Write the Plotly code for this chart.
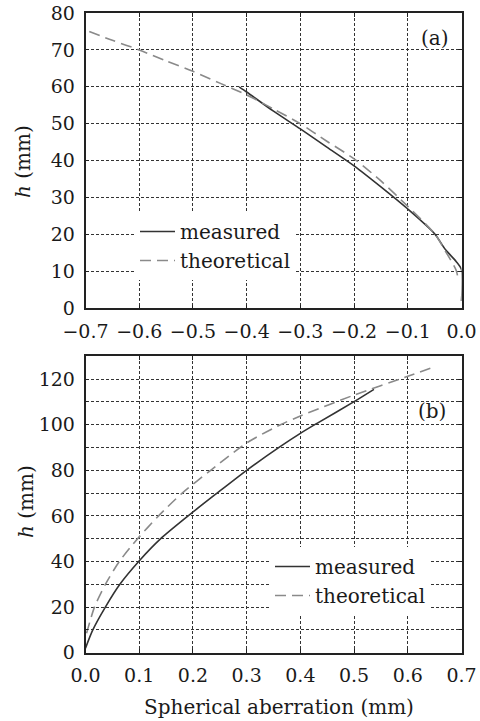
import plotly.graph_objects as go

# ---- data: panel (a) ----
a_meas_x = [-0.414, -0.40, -0.35, -0.30, -0.25, -0.20, -0.15, -0.10, -0.05, -0.03, -0.01, 0.0, 0.0]
a_meas_h = [60.0, 58.6, 53.4, 48.6, 43.6, 38.6, 32.9, 26.9, 20.2, 15.9, 12.7, 10.5, 2.0]
a_theo_x = [-0.693, -0.65, -0.60, -0.55, -0.50, -0.45, -0.40, -0.35, -0.30, -0.25, -0.20, -0.15, -0.10, -0.05, -0.03, -0.01, -0.006]
a_theo_h = [75.0, 72.6, 70.0, 67.0, 64.2, 61.0, 57.8, 54.0, 50.0, 45.2, 40.5, 34.5, 27.6, 20.2, 15.5, 10.3, 7.7]

# ---- data: panel (b) ----
b_meas_x = [0.0, 0.0136, 0.037, 0.064, 0.099, 0.140, 0.191, 0.245, 0.300, 0.363, 0.400, 0.431, 0.500, 0.537]
b_meas_h = [2.0, 10.0, 20.0, 30.0, 40.0, 50.0, 60.0, 70.0, 80.0, 90.5, 96.2, 100.6, 110.1, 115.5]
b_theo_x = [0.002, 0.0167, 0.037, 0.063, 0.097, 0.136, 0.180, 0.233, 0.300, 0.363, 0.400, 0.500, 0.600, 0.649]
b_theo_h = [8.5, 20.0, 30.0, 40.0, 50.0, 60.0, 70.0, 80.0, 92.0, 100.0, 103.8, 113.0, 121.2, 125.4]

series_names = ["measured", "theoretical"]
x_title = "Spherical aberration (mm)"
y_title = "<i>h</i> (mm)"
panel_labels = ["(a)", "(b)"]

FONT = "DejaVu Serif"
W, H = 480, 721
meas_style = dict(color="#333333", width=1.6, shape="spline", smoothing=0.7)
theo_style = dict(color="#8a8a8a", width=1.6, dash="11px,6px", shape="spline", smoothing=0.7)

fig = go.Figure()
fig.add_trace(go.Scatter(x=a_meas_x, y=a_meas_h, mode="lines", name=series_names[0],
                         line=meas_style, xaxis="x", yaxis="y", legend="legend"))
fig.add_trace(go.Scatter(x=a_theo_x, y=a_theo_h, mode="lines", name=series_names[1],
                         line=theo_style, xaxis="x", yaxis="y", legend="legend"))
fig.add_trace(go.Scatter(x=b_meas_x, y=b_meas_h, mode="lines", name=series_names[0],
                         line=meas_style, xaxis="x2", yaxis="y2", legend="legend2"))
fig.add_trace(go.Scatter(x=b_theo_x, y=b_theo_h, mode="lines", name=series_names[1],
                         line=theo_style, xaxis="x2", yaxis="y2", legend="legend2"))

xd = [85.5 / W, 461.5 / W]
ax_common = dict(showline=True, linecolor="#222", linewidth=1.5, mirror="ticks",
                 ticks="inside", ticklen=4, tickcolor="#222", automargin=False,
                 showgrid=True, gridcolor="#333", gridwidth=1, griddash="3px,2px",
                 zeroline=False, tickfont=dict(family=FONT, size=19, color="#1a1a1a"),
                 ticklabelstandoff=5)

fig.update_layout(
    template="none",
    width=W, height=H, autosize=False,
    margin=dict(l=0, r=0, t=0, b=0, pad=0),
    paper_bgcolor="white", plot_bgcolor="white",
    font=dict(family=FONT, size=20, color="#1a1a1a"),
    xaxis=dict(domain=xd, anchor="y", range=[-0.7, 0.0], dtick=0.1, tickformat=".1f", **ax_common),
    yaxis=dict(domain=[1 - 308.3 / H, 1 - 13 / H], anchor="x", range=[0, 80], dtick=10, **ax_common),
    xaxis2=dict(domain=xd, anchor="y2", range=[0.0, 0.7], dtick=0.1, tickformat=".1f", **ax_common),
    yaxis2=dict(domain=[1 - 652.7 / H, 1 - 356.3 / H], anchor="x2", range=[0, 130], dtick=20,
                minor=dict(dtick=10, showgrid=True, gridcolor="#333", gridwidth=1, griddash="3px,2px",
                           ticks="inside", ticklen=3),
                **ax_common),
    legend=dict(x=135 / W, y=1 - 212 / H, xanchor="left", yanchor="top",
                bgcolor="white", borderwidth=0, font=dict(family=FONT, size=20, color="#1a1a1a"),
                tracegroupgap=0, itemwidth=35),
    legend2=dict(x=270 / W, y=1 - 547 / H, xanchor="left", yanchor="top",
                 bgcolor="white", borderwidth=0, font=dict(family=FONT, size=20, color="#1a1a1a"),
                 tracegroupgap=0, itemwidth=35),
    showlegend=True,
)

ann = [
    dict(text=panel_labels[0], x=435 / W, y=1 - 38 / H),
    dict(text=panel_labels[1], x=432 / W, y=1 - 411 / H),
    dict(text=y_title, x=23 / W, y=1 - 162 / H, textangle=-90),
    dict(text=y_title, x=26 / W, y=1 - 502 / H, textangle=-90),
    dict(text=x_title, x=279 / W, y=1 - 707 / H),
]
for a in ann:
    fig.add_annotation(xref="paper", yref="paper", showarrow=False,
                       xanchor="center", yanchor="middle",
                       font=dict(family=FONT, size=20, color="#1a1a1a"), **a)

fig.write_html("out.html", config={"displayModeBar": False},
               post_script="document.body.style.margin='0';document.body.style.overflow='hidden';")
